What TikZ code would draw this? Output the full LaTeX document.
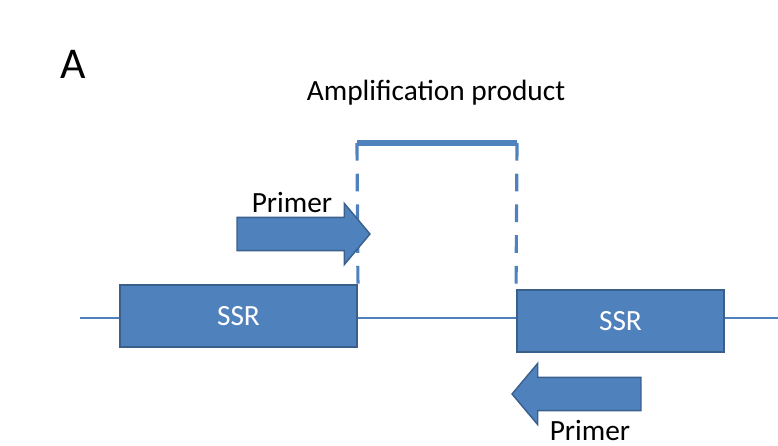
\documentclass[tikz,border=0pt]{standalone}
\usepackage{fontspec}
\setmainfont{Carlito}
\usetikzlibrary{shapes.arrows}
\definecolor{ssrblue}{HTML}{4F81BD}
\definecolor{ssredge}{HTML}{3A5F8B}
\tikzset{
	ssrbox/.style={draw=ssredge, fill=ssrblue, line width=1.1pt, rectangle, text=white, font=\fontsize{16.7}{20}\selectfont},
	primerarrow/.style={draw=ssredge, fill=ssrblue, line width=0.8pt, single arrow, single arrow head extend=0.28cm, single arrow tip angle=100, inner xsep=0pt, inner ysep=0.32cm},
	lbl/.style={font=\fontsize{16.7}{20}\selectfont, inner sep=0pt}
}
\begin{document}
\begin{tikzpicture}[x=0.02cm, y=-0.02cm]
			\useasboundingbox (0,0) rectangle (778,446);
			\node[font=\fontsize{25}{30}\selectfont, inner sep=0pt] (panel) at (73,64) {A};
			\node[lbl] (prodlabel) at (436,93) {Amplification product};
			% genomic line
			\coordinate (lineL) at (80,318);
			\coordinate (lineR) at (778,318);
			\draw[ssrblue, line width=0.9pt] (lineL) -- (lineR);
			\node[ssrbox, minimum width=4.74cm, minimum height=1.24cm] (ssrL) at (238.5,316) {SSR};
			\node[ssrbox, minimum width=4.14cm, minimum height=1.24cm] (ssrR) at (620.5,321) {SSR};
			% amplification product
			\coordinate (prodL) at (357,143);
			\coordinate (prodR) at (517,143);
			\draw[ssrblue, line width=1.8pt, dash pattern=on 10pt off 7.5pt] (prodL) -- (ssrL.north east);
			\draw[ssrblue, line width=1.8pt, dash pattern=on 10pt off 7.5pt] (prodR) -- (ssrR.north west);
			\draw[ssrblue, line width=3.2pt] (prodL) -- (prodR);
			% primers
			\node[primerarrow, minimum height=2.66cm] (primerF) at (296.5,234) {};
			\node[primerarrow, minimum height=2.58cm, shape border rotate=180] (primerR) at (583.5,394) {};
			\node[lbl, anchor=base] (primerFlabel) at (292,213) {Primer};
			\node[lbl, anchor=base] (primerRlabel) at (590,440) {Primer};
		\end{tikzpicture}
\end{document}
